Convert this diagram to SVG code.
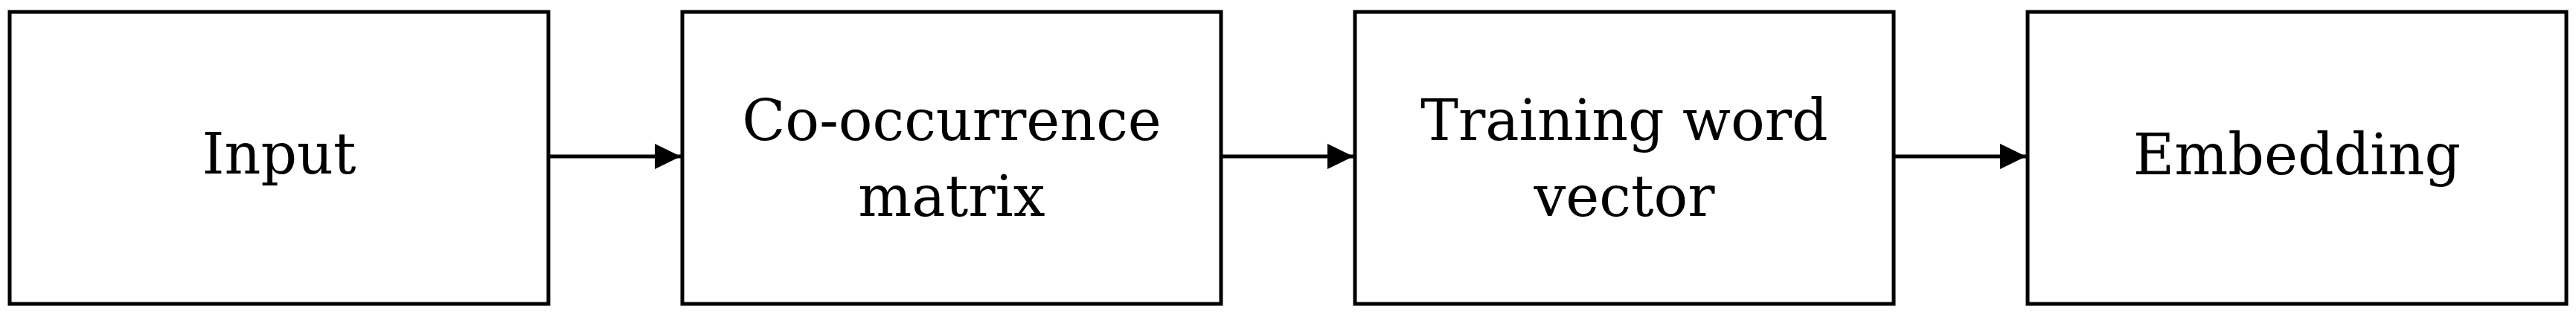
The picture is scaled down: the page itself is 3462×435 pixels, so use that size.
<svg xmlns="http://www.w3.org/2000/svg" width="3462" height="435" viewBox="0 0 3462 435">
  <style>
    .box { fill: #ffffff; stroke: #000000; stroke-width: 5; }
    .lbl { font-family: "DejaVu Serif", "Liberation Serif", serif; font-size: 76px; fill: #000000; text-anchor: middle; }
    .conn { stroke: #000000; stroke-width: 5; fill: none; }
  </style>
  <defs>
    <marker id="arrow" markerUnits="userSpaceOnUse" markerWidth="36" markerHeight="36" refX="35" refY="18" orient="auto">
      <path d="M0,1 L35,18 L0,35 Z" fill="#000000"/>
    </marker>
  </defs>
  <rect x="0" y="0" width="3462" height="435" fill="#ffffff"/>
  <g id="connectors">
    <line class="conn" x1="737" y1="210" x2="915" y2="210" marker-end="url(#arrow)"/>
    <line class="conn" x1="1641" y1="210" x2="1819" y2="210" marker-end="url(#arrow)"/>
    <line class="conn" x1="2545" y1="210" x2="2723" y2="210" marker-end="url(#arrow)"/>
  </g>
  <g id="node-input">
    <rect class="box" x="13" y="16" width="724" height="392"/>
    <text class="lbl" x="375" y="233">Input</text>
  </g>
  <g id="node-cooccurrence">
    <rect class="box" x="917" y="16" width="724" height="392"/>
    <text class="lbl" x="1279" y="188">Co-occurrence</text>
    <text class="lbl" x="1279" y="290">matrix</text>
  </g>
  <g id="node-training">
    <rect class="box" x="1821" y="16" width="724" height="392"/>
    <text class="lbl" x="2183" y="188">Training word</text>
    <text class="lbl" x="2183" y="290">vector</text>
  </g>
  <g id="node-embedding">
    <rect class="box" x="2725" y="16" width="724" height="392"/>
    <text class="lbl" x="3087" y="234">Embedding</text>
  </g>
</svg>
